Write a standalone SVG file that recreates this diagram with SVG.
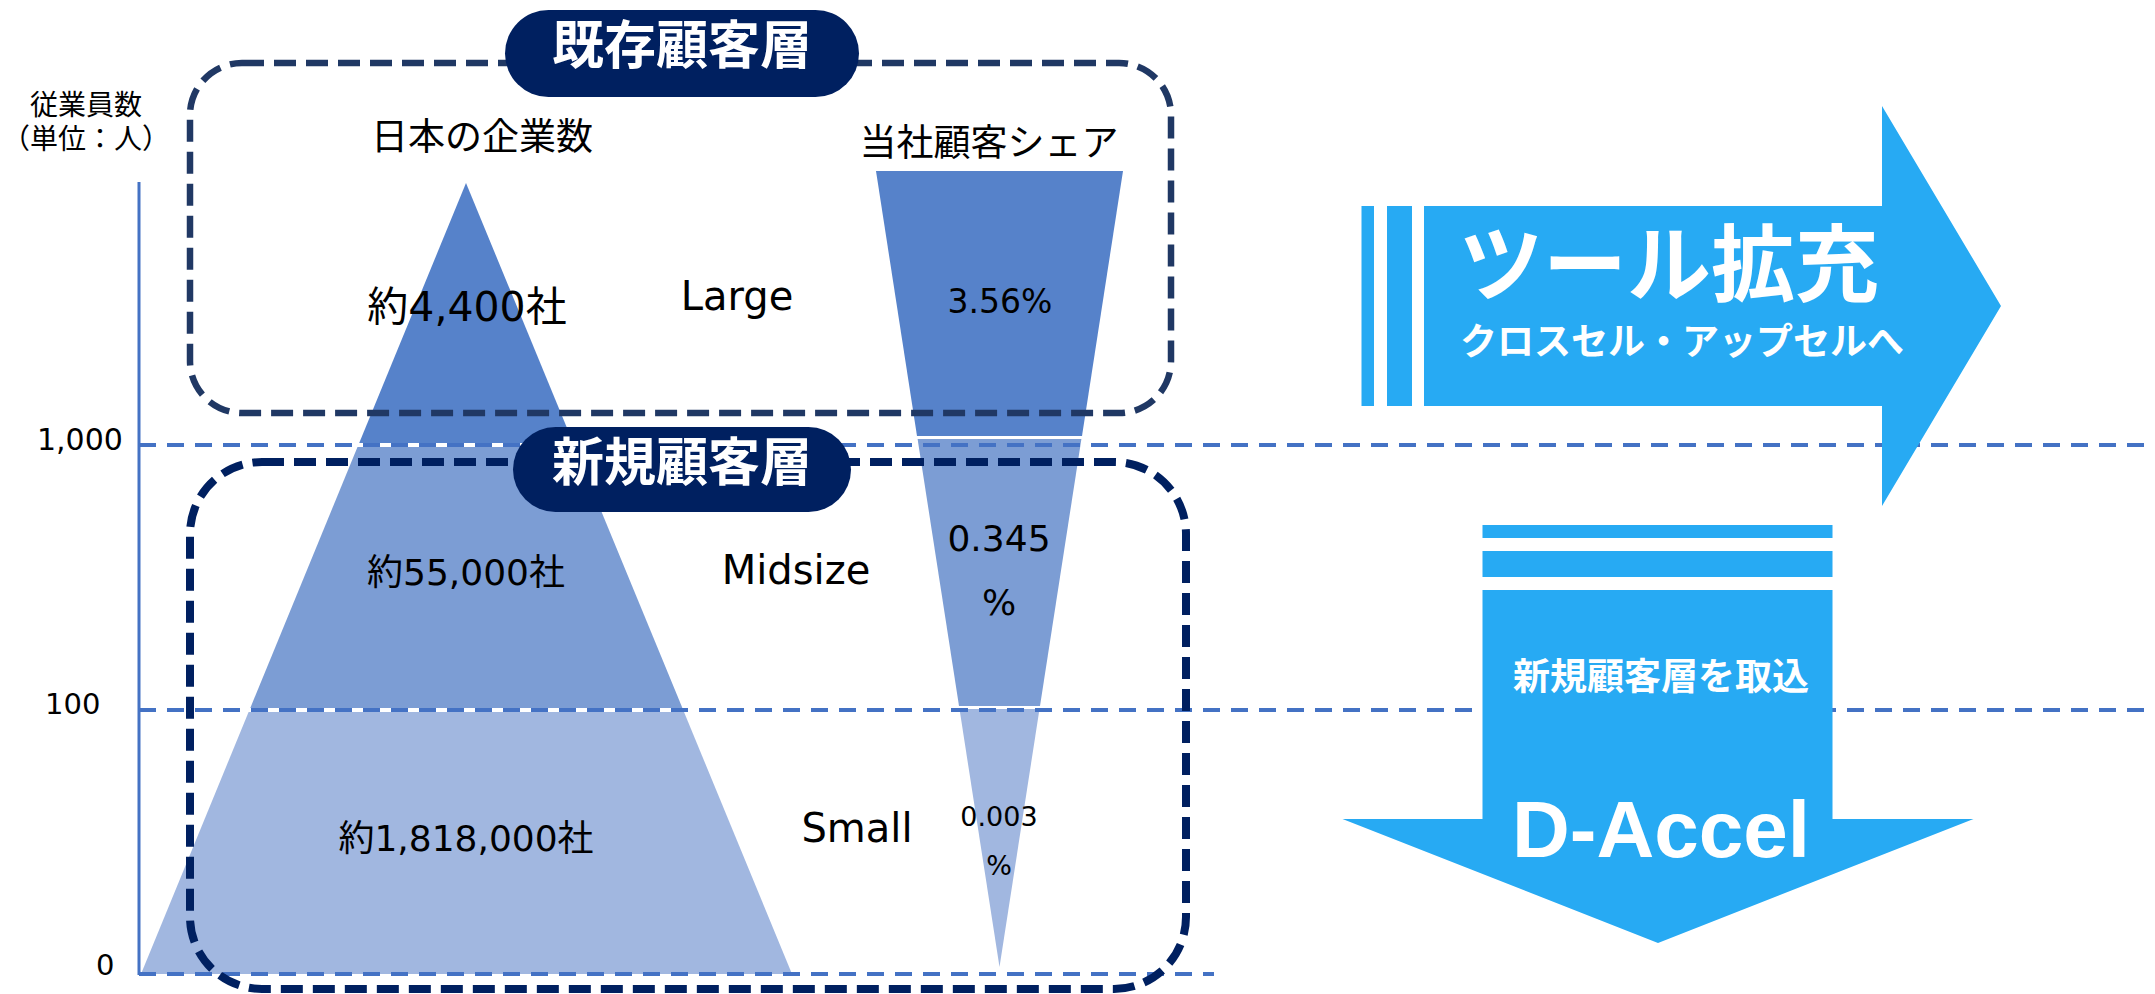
<svg xmlns="http://www.w3.org/2000/svg" width="2155" height="994" viewBox="0 0 2155 994">
<style>
.jp{font-family:"Noto Sans CJK JP","Noto Sans",sans-serif;fill:#000}
.lt{font-family:"DejaVu Sans","Noto Sans CJK JP",sans-serif;fill:#000}
.b1{fill:#5682CA}.b2{fill:#7C9DD4}.b3{fill:#A1B7E0}
.guide{stroke:#4472C4;stroke-width:4;stroke-dasharray:17 11;fill:none}
.pill{fill:#002060}
.pilltxt{font-family:"Noto Sans CJK JP",sans-serif;font-weight:700;font-size:52px;fill:#fff}
.arrow{fill:#27AAF3}
.wt{font-family:"Noto Sans CJK JP",sans-serif;font-weight:700;fill:#fff}
</style>
<rect width="2155" height="994" fill="#fff"/>

<g id="pyramid">
<polygon class="b1" points="466,183 573.2,443 359.2,443"/>
<polygon class="b2" points="357.5,447 574.8,447 682.4,708 250.3,708"/>
<polygon class="b3" points="248.6,712 684,712 792,974 141,974"/>
</g>

<g id="funnel">
<polygon class="b1" points="876,171 1123,171 1082,436 917,436"/>
<polygon class="b2" points="917.6,439 1081.4,439 1040,706 959,706"/>
<polygon class="b3" points="959.5,709 1039.5,709 999.5,967"/>
</g>

<g id="connectors">
<line x1="139" y1="182" x2="139" y2="975" stroke="#4472C4" stroke-width="3"/>
<line class="guide" x1="139" y1="445" x2="2155" y2="445"/>
<line class="guide" x1="139" y1="710" x2="2155" y2="710"/>
<line class="guide" x1="139" y1="974" x2="1214" y2="974"/>
</g>

<g id="axis-labels">
<text class="jp" x="86" y="115" font-size="28" text-anchor="middle">従業員数</text>
<text class="jp" x="86" y="149" font-size="28" text-anchor="middle">（単位：人）</text>
<text class="lt" x="37" y="450" font-size="30">1,000</text>
<text class="lt" x="45" y="714" font-size="29">100</text>
<text class="lt" x="96" y="975" font-size="29">0</text>
</g>

<g id="existing-box">
<rect x="190" y="63" width="981" height="350" rx="52" ry="52" fill="none" stroke="#203864" stroke-width="6.5" stroke-dasharray="22 10"/>
</g>

<g id="new-box">
<rect x="190" y="462" width="996" height="527" rx="72" ry="72" fill="none" stroke="#002060" stroke-width="8" stroke-dasharray="22 10"/>
</g>

<g id="headers">
<text class="jp" x="482" y="150" font-size="37" text-anchor="middle">日本の企業数</text>
<text class="jp" x="989" y="156" font-size="37" text-anchor="middle">当社顧客シェア</text>
</g>

<g id="large-row">
<text class="lt" x="467" y="321" font-size="41" text-anchor="middle">約4,400社</text>
<text class="lt" x="737" y="310" font-size="40" text-anchor="middle">Large</text>
<text class="lt" x="1000" y="313" font-size="33" text-anchor="middle">3.56%</text>
</g>

<g id="mid-row">
<text class="lt" x="466" y="585" font-size="36" text-anchor="middle">約55,000社</text>
<text class="lt" x="796" y="584" font-size="40" text-anchor="middle">Midsize</text>
<text class="lt" x="999" y="551" font-size="36" text-anchor="middle">0.345</text>
<text class="lt" x="999" y="615" font-size="36" text-anchor="middle">%</text>
</g>

<g id="small-row">
<text class="lt" x="466" y="851" font-size="36" text-anchor="middle">約1,818,000社</text>
<text class="lt" x="857" y="842" font-size="40" text-anchor="middle">Small</text>
<text class="lt" x="999" y="826" font-size="27" text-anchor="middle">0.003</text>
<text class="lt" x="999" y="875" font-size="27" text-anchor="middle">%</text>
</g>

<g id="pill-existing">
<rect class="pill" x="505" y="10" width="354" height="87" rx="43.5"/>
<text class="pilltxt" x="682" y="64" text-anchor="middle">既存顧客層</text>
</g>

<g id="pill-new">
<rect class="pill" x="513" y="427" width="338" height="85" rx="42.5"/>
<text class="pilltxt" x="682" y="481" text-anchor="middle">新規顧客層</text>
</g>

<g id="arrow-right">
<rect class="arrow" x="1361.5" y="206" width="12.5" height="200"/>
<rect class="arrow" x="1387" y="206" width="25" height="200"/>
<polygon class="arrow" points="1424,206 1882,206 1882,106 2001,306 1882,506 1882,406 1424,406"/>
<text class="wt" x="1459" y="295" font-size="84">ツール拡充</text>
<text class="wt" x="1460" y="355" font-size="37">クロスセル・アップセルへ</text>
</g>

<g id="arrow-down">
<rect class="arrow" x="1482.5" y="525" width="350" height="13"/>
<rect class="arrow" x="1482.5" y="551" width="350" height="26"/>
<polygon class="arrow" points="1482.5,590 1832.5,590 1832.5,819 1973.5,819 1658,943 1342.5,819 1482.5,819"/>
<text class="wt" x="1661" y="690" font-size="37" text-anchor="middle">新規顧客層を取込</text>
<text x="1661" y="857" font-size="80" font-weight="700" font-family="'Liberation Sans',Arial,sans-serif" fill="#fff" text-anchor="middle">D-Accel</text>
</g>
</svg>
